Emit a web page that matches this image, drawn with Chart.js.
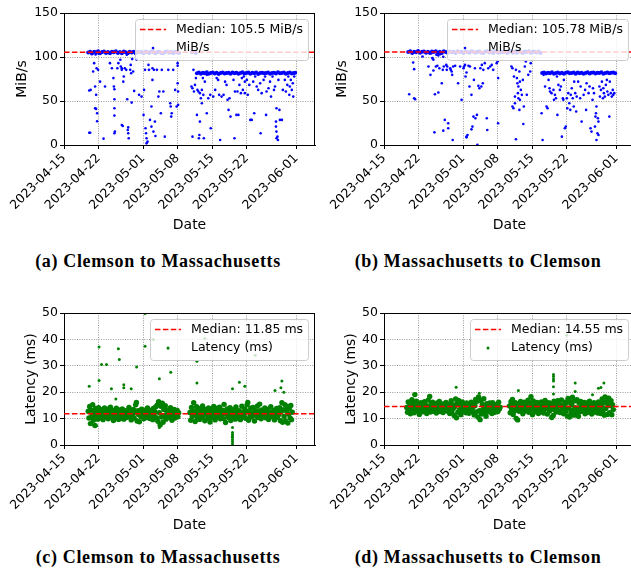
<!DOCTYPE html>
<html>
<head>
<meta charset="utf-8">
<script src="https://cdn.jsdelivr.net/npm/chart.js@4.4.0/dist/chart.umd.min.js"></script>
<style>
  html, body { margin: 0; padding: 0; background: #fff; overflow: hidden; }
  body { width: 631px; height: 573px; position: relative; }
  .panel { position: absolute; width: 319px; height: 240px; }
  .caption { position: absolute; width: 316px; line-height: 20px; text-align: center; font-family: 'Liberation Serif', serif; font-weight: bold; font-size: 18px; letter-spacing: 0.65px; color: #000; }
</style>
</head>
<body>
<div class="panel" style="left:0;top:0"><canvas id="thrCM" width="319" height="240"></canvas></div>
<div class="panel" style="left:320px;top:0"><canvas id="thrMC" width="319" height="240"></canvas></div>
<div class="panel" style="left:0;top:300px"><canvas id="latCM" width="319" height="240"></canvas></div>
<div class="panel" style="left:320px;top:300px"><canvas id="latMC" width="319" height="240"></canvas></div>
<div class="caption" style="left:0;top:251px">(a) Clemson to Massachusetts</div>
<div class="caption" style="left:320px;top:251px">(b) Massachusetts to Clemson</div>
<div class="caption" style="left:0;top:547px">(c) Clemson to Massachusetts</div>
<div class="caption" style="left:320px;top:547px">(d) Massachusetts to Clemson</div>
<script>
// x values are days since 2023-04-15
const dayMin = 0;
const dayMax = 50.8;
const dateTickDays = [0, 7, 16, 23, 30, 37, 47];
const dateTickLabels = ['2023-04-15', '2023-04-22', '2023-05-01', '2023-05-08', '2023-05-15', '2023-05-22', '2023-06-01'];

const medianThrCM = 105.5;
const medianThrMC = 105.78;
const medianLatCM = 11.85;
const medianLatMC = 14.55;

// (a) throughput Clemson -> Massachusetts, MiB/s
const thrCMScatter = [
  [5.1,61.9],[5.4,62.6],[5.9,83.5],[6.1,93],[6.3,41.8],[6.5,41],[6.6,87.3],[6.7,36],[5.1,14],[5.3,14],
  [6.3,66.4],[6.5,57],[6.7,27],[6.9,85.4],[7.3,72],[8.0,7.2],[8.3,66.4],[9.3,93],[9.7,87.3],[10.0,76],
  [10.1,66.4],[10.2,63.4],[10.2,52],[10.2,41.8],[10.2,33.4],[10.2,13.3],[10.3,15.2],[10.8,87.3],[11.0,93],[11.4,96.8],
  [11.5,89.2],[11.7,87.3],[11.7,85.4],[11.7,22.8],[11.9,21.6],[12.0,72],[12.1,77.8],[12.3,87.3],[12.6,85.4],[12.7,102.5],
  [12.8,52],[12.9,17],[13.0,20],[13.0,13.3],[13.1,7.6],[13.4,85.4],[13.5,91],[13.6,81.6],[13.7,48.2],[13.8,97.6],
  [14.0,83.5],[14.2,61.5],[14.7,96.8],[15.2,57],[15.7,55],[16.1,34.2],[16.2,62.6],[16.4,85.4],[16.5,19],[16.6,13.3],
  [16.7,7.6],[16.7,1.9],[16.9,3.8],[17.1,91],[17.2,85.4],[17.4,28.5],[17.7,20.9],[17.7,43.7],[17.9,87.3],[17.9,74],
  [18.1,109],[18.1,15.2],[18.2,85.4],[18.4,26.6],[18.5,10.3],[18.8,85.4],[19.1,55],[19.3,60.8],[19.6,36],[19.8,85.4],
  [20.1,60.8],[20.4,9.5],[21.1,85.4],[21.5,47.5],[21.6,43.7],[21.7,32.3],[21.8,36],[22.1,85.4],[22.5,62.6],[22.8,43.7],
  [23.0,70.2],[23.0,93],[23.1,45.6],[23.1,60.8],[23.0,90],[5.6,103.2],[6.4,102.8],[7.0,103.6],
  [25.8,66.4],[26.0,64.5],[26.0,9.5],[26.2,85.4],[26.3,60.8],[26.5,68.3],[26.7,76],[26.9,34.2],[27.0,62.6],[27.2,60.8],
  [27.3,7.6],[27.4,11.4],[27.5,58.9],[27.5,26.6],[27.7,53.2],[27.9,47.5],[27.9,62.6],[28.1,76],[28.2,57],[28.3,7.6],
  [28.5,72],[28.9,79.7],[28.9,36],[29.2,53.2],[29.6,57],[29.7,19],[30.2,55],[30.6,62.6],[30.9,76],[31.2,74],
  [31.4,57],[31.6,5.7],[31.9,55],[32.3,57],[32.6,72],[32.9,68.3],[33.1,51.3],[33.3,39.9],[33.5,53.2],[33.7,32.3],
  [34.3,74],[34.5,7.6],[34.6,60.8],[34.9,34.2],[35.1,60.8],[35.3,34.2],[35.5,68.3],[35.8,58.9],[36.0,76],[36.2,62.6],
  [36.4,77.8],[36.6,72],[36.6,58.9],[37.0,74],[37.2,57],[37.5,68.3],[37.7,28.5],[38.0,28.5],[38.3,72],[38.5,36],
  [38.7,77.8],[39.0,66.4],[39.3,62.6],[39.7,70.2],[39.8,13.3],[40.0,58.9],[40.4,74],[40.7,77.8],[40.9,34.2],[41.0,60.8],
  [41.4,64.5],[41.7,72],[41.9,55],[42.2,77.8],[42.5,62.6],[42.7,66.4],[42.9,26.6],[42.9,20.9],[43.0,41.8],[43.0,15.2],
  [43.0,7.6],[43.2,9.5],[43.3,5.7],[43.4,74],[43.6,39.9],[43.7,28.5],[44.1,28.5],[44.3,62.6],[44.7,74],[44.9,60.8],
  [45.2,68.3],[45.4,77.8],[45.6,57],[45.7,66.4],[45.9,74],[46.1,62.6],[46.3,70.2],[46.4,55],[46.6,77.8]
];
const thrCMBand = [
  [4.9,105.2],[5.3,106.1],[5.7,104.3],[6.1,105.9],[6.5,105.3],[6.9,106.4],[7.3,104.4],[7.7,105.6],[8.1,106.2],[8.5,104.5],
  [8.9,105.8],[9.3,104.2],[9.7,106.0],[10.1,105.4],[10.5,106.5],[10.9,104.6],[11.3,105.7],[11.7,104.3],[12.1,106.3],[12.5,105.5],
  [12.9,104.4],[13.3,106.0],[13.7,105.2],[14.1,105.9],[14.5,104.3],[14.9,106.1],[15.3,105.3],[15.7,105.8],[16.1,104.2],[16.5,106.2],
  [16.9,105.4],[17.3,104.5],[17.7,106.4],[18.1,105.6],[18.5,104.4],[18.9,105.7],[19.3,106.0],[19.7,104.6],[20.1,104.2],[20.5,105.9],
  [20.9,106.3],[21.3,104.7],[21.7,105.6],[22.1,104.3],[22.5,106.1],[22.9,105.5],[23.3,104.5],[25.9,105.4],[26.3,106.0],[26.7,104.6],
  [26.9,81.6],[27.3,82.4],[27.7,81.1],[28.1,82.0],[28.5,81.4],[28.9,82.6],[29.3,80.9],[29.7,81.8],[30.1,82.3],[30.5,81.2],
  [30.9,82.1],[31.3,80.8],[31.7,81.9],[32.1,82.5],[32.5,81.3],[32.9,81.7],[33.3,82.2],[33.7,81.0],[34.1,82.4],[34.5,81.5],
  [34.9,82.0],[35.3,80.9],[35.7,81.8],[36.1,82.6],[36.5,81.2],[36.9,81.9],[37.3,82.3],[37.7,81.1],[38.1,82.0],[38.5,81.6],
  [38.9,82.5],[39.3,80.8],[39.7,81.7],[40.1,82.2],[40.5,81.4],[40.9,81.9],[41.3,82.4],[41.7,81.0],[42.1,81.8],[42.5,82.1],
  [42.9,81.3],[43.3,82.6],[43.7,81.5],[44.1,81.9],[44.5,82.3],[44.9,81.1],[45.3,81.7],[45.7,82.4],[46.1,81.2],[46.5,81.8],[46.8,82.1]
];

// (b) throughput Massachusetts -> Clemson, MiB/s
const thrMCScatter = [
  [5.1,57.7],[5.9,93.8],[6.1,86.2],[6.1,53.2],[6.3,52],[7.8,100.6],[9.0,89.2],[9.4,79.7],[9.6,104.4],[9.8,98.7],
  [10.0,96.8],[10.0,84.7],[10.2,14.4],[10.3,57.7],[10.5,89.2],[10.8,90],[11.0,59.6],[11.2,87.3],[11.7,70.2],[11.9,85.4],
  [12.0,16.3],[12.1,89.2],[12.3,28.5],[12.6,91],[12.7,85.4],[12.8,89.2],[13.0,24.7],[13.0,19],[13.4,87.3],[13.5,85.4],
  [13.7,83.5],[13.8,79.7],[13.9,5.7],[14.0,89.2],[14.4,90],[15.0,70.2],[15.4,89.2],[15.7,51.3],[16.1,87.3],[16.2,89.2],
  [16.4,91],[16.5,77.8],[16.7,9.5],[16.7,8.7],[16.7,82.4],[16.9,11.4],[17.1,90],[17.3,66.4],[17.4,89.2],[17.7,57],
  [17.7,17.8],[17.9,20.9],[18.1,32.3],[18.2,74],[18.4,87.3],[18.5,30.4],[18.8,34.2],[18.9,0.3],[19.1,67.2],[19.3,64.5],
  [19.5,87.3],[19.7,66.4],[19.8,91],[20.0,70.2],[20.1,85.4],[20.4,93],[20.8,30.4],[20.9,17],[21.1,87.3],[21.5,89.2],
  [21.8,91],[22.1,85.4],[22.8,93],[23.0,95],[23.1,76],[23.1,24.7],[10.6,102.5],[11.0,101.8],[11.4,103.2],[12.0,100.3],
  [25.8,89.2],[26.0,87.3],[26.0,43.7],[26.2,41.8],[26.3,77.8],[26.5,55],[26.5,47.5],[26.7,85.4],[26.7,6.5],[26.9,76],
  [27.0,70.2],[27.1,58.9],[27.2,66.4],[27.2,53.2],[27.4,83.5],[27.4,39.9],[27.5,51.3],[27.5,72],[27.7,62.6],[27.9,57],
  [28.1,74],[28.2,23.9],[28.3,43.7],[28.5,89.2],[28.7,95],[28.9,57],[29.2,79.7],[29.6,83.5],[29.7,93],
  [31.9,36],[32.1,5.7],[32.3,79.7],[32.6,66.4],[32.9,43.7],[33.1,41.8],[33.3,74],[33.5,64.5],[33.6,60.8],[33.9,58.9],
  [34.3,62.6],[34.4,51.3],[34.6,57],[34.8,53.2],[35.0,77.8],[35.1,34.2],[35.3,68.3],[35.6,62.6],[35.8,66.4],[36.0,9.5],
  [36.2,53.2],[36.3,51.3],[36.4,74],[36.6,19],[36.8,20.9],[37.0,53.2],[37.1,41.8],[37.3,58.9],[37.5,47.5],[37.7,39.9],
  [37.8,57],[38.0,64.5],[38.2,53.2],[38.4,43.7],[38.5,72],[38.7,58.9],[38.9,38],[39.0,55],[39.3,72],[39.7,53.2],
  [39.8,66.4],[40.0,26.6],[40.4,57],[40.7,62.6],[40.9,39.9],[41.0,70.2],[41.4,58.9],[41.6,66.4],[41.8,19],[42.0,15.2],
  [42.2,51.3],[42.3,64.5],[42.5,58.9],[42.7,20.9],[42.8,32.3],[42.9,36],[43.0,43.7],[43.0,5.7],[43.2,13.3],[43.3,30.4],
  [43.4,26.6],[43.4,11.4],[43.6,66.4],[43.7,55],[43.9,62.6],[44.1,72],[44.3,53.2],[44.4,64.5],[44.5,58.9],[44.7,55],
  [44.9,68.3],[45.1,74],[45.2,60.8],[45.4,57],[45.6,32.3],[45.7,72],[45.9,58.9],[46.1,55],[46.3,62.6],[46.4,57],[46.6,58.9]
];
const thrMCBand = [
  [4.9,105.6],[5.3,106.4],[5.7,104.6],[6.1,106.0],[6.5,105.5],[6.9,106.7],[7.3,104.7],[7.7,105.9],[8.1,106.3],[8.5,104.8],
  [8.9,106.1],[9.3,104.5],[9.7,106.2],[10.1,105.7],[10.5,106.6],[10.9,104.9],[11.3,106.0],[11.7,104.6],[12.1,106.5],[12.5,105.8],
  [12.9,104.7],[13.3,106.3],[13.7,105.5],[14.1,106.1],[14.5,104.6],[14.9,106.4],[15.3,105.6],[15.7,106.0],[16.1,104.5],[16.5,106.5],
  [16.9,105.7],[17.3,104.8],[17.7,106.6],[18.1,105.9],[18.5,104.7],[18.9,106.0],[19.3,106.3],[19.7,104.9],[20.1,104.5],[20.5,106.2],
  [20.9,106.5],[21.3,105.0],[21.7,105.9],[22.1,104.6],[22.5,106.4],[22.9,105.8],[23.3,104.8],[23.7,106.1],[24.1,105.6],[24.5,106.3],
  [24.9,104.5],[25.3,105.9],[25.7,106.4],[26.1,104.9],[26.5,106.0],[26.9,104.7],[27.3,106.5],[27.7,105.7],[28.1,104.6],[28.5,106.2],
  [28.9,105.8],[29.3,106.4],[29.7,104.8],[30.1,105.9],[30.5,106.1],[30.9,105.0],[31.3,106.3],[31.7,104.6],
  [32.0,81.7],[32.4,82.5],[32.8,81.2],[33.2,82.1],[33.6,81.5],[34.0,82.7],[34.4,81.0],[34.8,81.9],[35.2,82.4],[35.6,81.3],
  [36.0,82.2],[36.4,80.9],[36.8,82.0],[37.2,82.6],[37.6,81.4],[38.0,81.8],[38.4,82.3],[38.8,81.1],[39.2,82.5],[39.6,81.6],
  [40.0,82.1],[40.4,81.0],[40.8,81.9],[41.2,82.7],[41.6,81.3],[42.0,82.0],[42.4,82.4],[42.8,81.2],[43.2,82.1],[43.6,81.7],
  [44.0,82.6],[44.4,80.9],[44.8,81.8],[45.2,82.3],[45.6,81.5],[46.0,82.0],[46.4,82.5],[46.8,81.4]
];

// (c) latency Clemson -> Massachusetts, ms
const latCMBand = [
  [4.90,12.8],[5.05,10.2],[5.20,14.6],[5.35,8.1],[5.50,13.2],[5.65,11.0],[5.80,15.3],[5.95,9.4],[6.10,12.1],[6.25,7.4],
  [6.40,13.8],[6.55,10.9],[6.70,12.6],[6.85,9.8],[7.00,14.1],[7.15,11.5],[7.30,12.9],[7.45,10.3],[7.60,13.4],[7.75,11.8],
  [7.90,9.6],[8.05,12.4],[8.20,14.0],[8.35,10.7],[8.50,12.2],[8.65,11.1],[8.80,13.6],[8.95,9.9],[9.10,12.7],[9.25,11.4],
  [9.40,14.3],[9.55,10.5],[9.70,12.0],[9.85,13.1],[10.00,9.3],[10.15,11.9],[10.30,12.8],[10.45,10.6],[10.60,13.9],[10.75,11.3],
  [10.90,12.5],[11.05,9.7],[11.20,13.3],[11.35,11.6],[11.50,12.2],[11.65,10.1],[11.80,13.7],[11.95,11.9],[12.10,9.8],[12.25,12.6],
  [12.40,11.2],[12.55,13.0],[12.70,10.4],[12.85,12.3],[13.00,11.7],[13.15,14.2],[13.30,10.9],[13.45,12.1],[13.60,9.5],[13.75,12.9],
  [13.90,11.4],[14.05,13.5],[14.20,10.2],[14.35,12.4],[14.50,15.2],[14.65,16.1],[14.80,9.1],[14.95,13.0],[15.10,11.6],[15.25,8.8],
  [15.40,12.7],[15.55,10.8],[15.70,13.6],[15.85,11.3],[16.00,12.0],[16.15,9.9],[16.30,13.2],[16.45,11.5],[16.60,12.6],[16.75,10.4],
  [16.90,14.0],[17.05,11.8],[17.20,12.3],[17.35,10.0],[17.50,13.1],[17.65,11.2],[17.80,12.7],[17.95,9.6],[18.10,13.8],[18.25,11.0],
  [18.40,12.5],[18.55,14.4],[18.70,10.3],[18.85,15.1],[19.00,9.0],[19.15,16.4],[19.30,12.2],[19.45,7.6],[19.60,14.7],[19.75,10.6],
  [19.90,15.8],[20.05,8.6],[20.20,13.4],[20.35,11.1],[20.50,14.9],[20.65,9.8],[20.80,12.8],[20.95,11.4],[21.10,13.3],[21.25,10.5],
  [21.40,12.0],[21.55,14.1],[21.70,11.7],[21.85,9.4],[22.00,12.9],[22.15,11.0],[22.30,13.5],[22.45,10.2],[22.60,12.4],[22.75,11.6],
  [22.90,13.1],[23.05,10.7],[23.20,12.2],
  [25.50,12.3],[25.65,9.4],[25.80,14.2],[25.95,10.8],[26.10,13.0],[26.25,16.0],[26.40,11.5],[26.55,8.9],[26.70,12.7],[26.85,14.5],
  [27.00,10.3],[27.15,12.1],[27.30,13.8],[27.45,9.7],[27.60,11.9],[27.75,13.3],[27.90,10.6],[28.05,14.8],[28.20,11.2],[28.35,12.6],
  [28.50,9.2],[28.65,13.5],[28.80,11.7],[28.95,12.9],[29.10,10.1],[29.25,14.0],[29.40,11.4],[29.55,8.7],[29.70,12.5],[29.85,13.6],
  [30.00,10.4],[30.15,12.2],[30.30,14.6],[30.45,11.0],[30.60,9.5],[30.75,12.8],[30.90,11.3],[31.05,13.9],[31.20,10.7],[31.35,12.0],
  [31.50,14.3],[31.65,9.9],[31.80,12.4],[31.95,11.6],[32.10,13.2],[32.25,10.0],[32.40,15.4],[32.55,11.8],[32.70,8.5],[32.85,12.6],
  [33.00,13.7],[33.15,10.5],[33.30,12.3],[33.45,11.1],[33.60,14.1],[33.75,9.3],[33.90,12.9],[34.05,10.9],[34.20,13.4],[34.35,11.5],
  [34.50,12.1],[34.65,9.8],[34.80,14.4],[34.95,11.3],[35.10,12.7],[35.25,10.2],[35.40,13.0],[35.55,11.8],[35.70,9.6],[35.85,12.4],
  [36.00,14.7],[36.15,10.8],[36.30,12.2],[36.45,11.4],[36.60,13.6],[36.75,10.1],[36.90,12.8],[37.05,15.2],[37.20,16.1],[37.35,9.4],
  [37.50,12.5],[37.65,11.0],[37.80,13.9],[37.95,10.6],[38.10,12.0],[38.25,14.2],[38.40,11.7],[38.55,9.1],[38.70,13.1],[38.85,11.2],
  [39.00,12.6],[39.15,14.8],[39.30,10.4],[39.45,12.9],[39.60,15.5],[39.75,11.6],[39.90,9.9],[40.05,13.3],[40.20,10.9],[40.35,12.3],
  [40.50,11.5],[40.65,14.0],[40.80,10.3],[40.95,12.7],[41.10,11.1],[41.25,13.5],[41.40,9.7],[41.55,12.2],[41.70,11.8],[41.85,14.5],
  [42.00,10.7],[42.15,12.4],[42.30,11.3],[42.45,13.2],[42.60,9.5],[42.75,12.8],[42.90,11.0],[43.05,13.8],[43.20,10.5],[43.35,12.1],
  [43.50,11.6],[43.65,14.1],[43.80,9.2],[43.95,12.6],[44.10,16.0],[44.25,8.6],[44.40,13.4],[44.55,10.8],[44.70,15.3],[44.85,9.0],
  [45.00,12.9],[45.15,14.6],[45.30,8.3],[45.45,11.7],[45.60,13.7],[45.75,10.2],[45.90,15.0],[46.05,9.6],[46.20,12.4]
];
const latCMOutliers = [
  [5.1,22.3],[7.1,37.1],[7.1,24.4],[7.6,30.5],[8.6,30.5],[9.6,21.3],[10.5,17.4],[11.0,36.5],[11.2,32.4],[12.1,22.8],
  [12.1,21.7],[13.6,21.3],[14.7,29.5],[16.4,49.8],[16.4,37.4],[18.1,40.0],[19.3,25.1],[21.1,36.5],[21.6,27.6],[26.9,31.7],
  [26.9,23.5],[28.5,40.3],[34.1,21.3],[35.5,23.8],[36.6,22.3],[38.7,34.0],[42.7,20.6],[43.9,21.7],[44.1,24.2],[44.5,20.0],
  [19.3,6.6],[6.6,7.3],[34.1,6.6],[34.1,4.7],[34.1,4.0],[34.1,3.3],[34.1,2.8],[34.1,2.0],[34.1,1.2],[34.1,0.4]
];

// (d) latency Massachusetts -> Clemson, ms
const latMCBand = [
  [4.60,14.2],[4.75,12.4],[4.90,16.3],[5.05,13.1],[5.20,15.0],[5.35,11.8],[5.50,14.7],[5.65,17.2],[5.80,13.5],[5.95,15.8],
  [6.10,12.2],[6.25,19.1],[6.40,14.4],[6.55,16.6],[6.70,12.9],[6.85,15.3],[7.00,13.7],[7.15,11.6],[7.30,14.9],[7.45,16.0],
  [7.60,13.3],[7.75,15.5],[7.90,12.6],[8.05,14.1],[8.20,16.4],[8.35,13.0],[8.50,15.1],[8.65,11.9],[8.80,14.6],[8.95,17.0],
  [9.10,13.4],[9.25,18.4],[9.40,12.5],[9.55,15.7],[9.70,14.0],[9.85,16.2],[10.00,12.8],[10.15,15.2],[10.30,13.6],[10.45,14.8],
  [10.60,12.1],[10.75,15.9],[10.90,13.2],[11.05,14.5],[11.20,16.5],[11.35,12.7],[11.50,15.0],[11.65,13.8],[11.80,14.3],[11.95,12.3],
  [12.10,15.6],[12.25,13.1],[12.40,14.9],[12.55,16.1],[12.70,12.9],[12.85,14.4],[13.00,13.5],[13.15,15.4],[13.30,11.9],[13.45,14.7],
  [13.60,16.8],[13.75,12.6],[13.90,15.3],[14.05,13.9],[14.20,11.2],[14.35,14.6],[14.50,17.4],[14.65,10.3],[14.80,15.8],[14.95,12.4],
  [15.10,16.9],[15.25,13.3],[15.40,15.1],[15.55,11.5],[15.70,14.2],[15.85,16.3],[16.00,12.8],[16.15,15.5],[16.30,13.7],[16.45,14.8],
  [16.60,12.2],[16.75,15.9],[16.90,13.4],[17.05,14.5],[17.20,12.0],[17.35,15.2],[17.50,13.9],[17.65,16.2],[17.80,12.7],[17.95,14.1],
  [18.10,15.7],[18.25,11.4],[18.40,14.9],[18.55,17.3],[18.70,12.5],[18.85,16.6],[19.00,10.6],[19.15,18.2],[19.30,13.0],[19.45,9.6],
  [19.60,16.9],[19.75,11.7],[19.90,15.4],[20.05,13.6],[20.20,17.5],[20.35,12.3],[20.50,14.8],[20.65,10.9],[20.80,15.6],[20.95,13.2],
  [21.10,14.4],[21.25,12.6],[21.40,15.9],[21.55,13.5],[21.70,14.1],[21.85,11.9],[22.00,16.0],[22.15,13.8],[22.30,14.6],[22.45,12.4],
  [22.60,15.3],[22.75,13.0],[22.90,14.9],[23.05,12.7],[23.20,16.2],[23.35,13.6],[23.50,14.3],
  [25.40,14.8],[25.55,12.2],[25.70,16.4],[25.85,13.5],[26.00,17.3],[26.15,11.6],[26.30,15.1],[26.45,13.0],[26.60,16.0],[26.75,10.1],
  [26.90,14.4],[27.05,9.5],[27.20,15.6],[27.35,12.8],[27.50,14.2],[27.65,16.5],[27.80,13.3],[27.95,15.0],[28.10,11.8],[28.25,14.7],
  [28.40,16.2],[28.55,12.9],[28.70,15.4],[28.85,13.6],[29.00,14.1],[29.15,17.0],[29.30,12.4],[29.45,15.8],[29.60,13.1],[29.75,18.3],
  [29.90,14.5],[30.05,11.5],[30.20,16.7],[30.35,13.8],[30.50,15.2],[30.65,12.6],[30.80,14.9],[30.95,16.1],[31.10,13.2],[31.25,11.9],
  [31.40,15.5],[31.55,14.0],[31.70,12.7],[31.85,16.3],[32.00,13.4],[32.15,15.0],[32.30,12.1],[32.45,14.6],[32.60,16.9],[32.75,13.7],
  [32.90,15.3],[33.05,11.7],[33.20,14.3],[33.35,16.0],[33.50,12.9],[33.65,15.7],[33.80,13.5],[33.95,10.4],[34.10,14.8],[34.25,11.2],
  [34.40,16.6],[34.55,13.3],[34.70,15.1],[34.85,12.5],[35.00,14.4],[35.15,16.8],[35.30,13.0],[35.45,15.6],[35.60,12.3],[35.75,14.9],
  [35.90,17.1],[36.05,13.6],[36.20,15.2],[36.35,11.8],[36.50,14.5],[36.65,16.2],[36.80,12.8],[36.95,15.9],[37.10,11.0],[37.25,17.6],
  [37.40,13.9],[37.55,10.6],[37.70,16.4],[37.85,12.2],[38.00,15.3],[38.15,18.1],[38.30,13.4],[38.45,11.3],[38.60,16.7],[38.75,14.1],
  [38.90,12.0],[39.05,17.2],[39.20,13.7],[39.35,10.9],[39.50,15.8],[39.65,12.6],[39.80,16.5],[39.95,14.2],[40.10,12.9],[40.25,15.4],
  [40.40,13.1],[40.55,16.1],[40.70,11.8],[40.85,14.7],[41.00,13.5],[41.15,15.9],[41.30,12.4],[41.45,14.3],[41.60,16.6],[41.75,13.0],
  [41.90,15.2],[42.05,11.7],[42.20,14.8],[42.35,13.6],[42.50,16.0],[42.65,12.5],[42.80,15.1],[42.95,13.9],[43.10,14.4],[43.25,12.1],
  [43.40,16.3],[43.55,13.2],[43.70,15.6],[43.85,11.9],[44.00,14.6],[44.15,17.4],[44.30,12.7],[44.45,15.9],[44.60,11.3],[44.75,18.2],
  [44.90,13.8],[45.05,16.4],[45.20,11.6],[45.35,15.0],[45.50,17.7],[45.65,12.2],[45.80,14.9],[45.95,16.8],[46.10,11.5],[46.25,15.3],
  [46.40,13.4]
];
const latMCOutliers = [
  [14.6,21.9],[19.3,19.6],[27.2,20.6],[34.3,26.7],[34.3,25.9],[34.3,25.0],[34.3,24.2],[34.3,22.1],[34.3,19.3],[37.0,41.6],
  [38.7,23.5],[38.7,20.3],[42.2,19.0],[43.4,21.5],[43.9,21.8],[44.5,23.5]
];

Chart.defaults.font.family = "'DejaVu Sans', sans-serif";
Chart.defaults.color = '#000';
Chart.defaults.animation = false;

const frameAndLegend = {
  id: 'frameAndLegend',
  afterDatasetsDraw(chart) {
    const { ctx, chartArea: a } = chart;
    ctx.save();
    ctx.strokeStyle = '#000';
    ctx.lineWidth = 1;
    ctx.beginPath();
    ctx.moveTo(a.left, a.top + 0.5);
    ctx.lineTo(a.right, a.top + 0.5);
    ctx.moveTo(a.right - 0.5, a.top);
    ctx.lineTo(a.right - 0.5, a.bottom);
    ctx.stroke();
    ctx.restore();
  },
  afterDraw(chart) {
    const { ctx, chartArea: a } = chart;
    const sets = chart.data.datasets;
    ctx.save();
    ctx.font = "12.5px 'DejaVu Sans'";
    const textW = Math.max(ctx.measureText(sets[0].label).width, ctx.measureText(sets[1].label).width);
    const w = 41 + textW + 5, h = 41;
    const x = Math.round(a.right - 7 - w), y = a.top + 6;
    ctx.beginPath();
    ctx.roundRect(x + 0.5, y + 0.5, w, h, 3);
    ctx.fillStyle = 'rgba(255,255,255,0.8)';
    ctx.fill();
    ctx.strokeStyle = '#cccccc';
    ctx.lineWidth = 1;
    ctx.stroke();

    ctx.strokeStyle = sets[0].borderColor;
    ctx.lineWidth = 1.5;
    ctx.setLineDash(sets[0].borderDash);
    ctx.beginPath();
    ctx.moveTo(x + 5, y + 10.5);
    ctx.lineTo(x + 31, y + 10.5);
    ctx.stroke();
    ctx.setLineDash([]);

    ctx.fillStyle = sets[1].backgroundColor;
    ctx.beginPath();
    ctx.arc(x + 18, y + 29, sets[1].pointRadius, 0, Math.PI * 2);
    ctx.fill();

    ctx.fillStyle = '#000';
    ctx.textBaseline = 'middle';
    ctx.fillText(sets[0].label, x + 41, y + 11);
    ctx.fillText(sets[1].label, x + 41, y + 29);
    ctx.restore();
  }
};

function createPanel(id, cfg) {
  const toXY = p => ({ x: p[0], y: p[1] });
  new Chart(document.getElementById(id), {
    type: 'scatter',
    data: {
      datasets: [{
        label: cfg.medianLabel,
        data: [{ x: dayMin, y: cfg.median }, { x: dayMax, y: cfg.median }],
        showLine: true,
        borderColor: '#ff0000',
        borderWidth: 1.5,
        borderDash: [5.5, 2.4],
        pointRadius: 0,
      }, {
        label: cfg.seriesLabel,
        data: cfg.scatter.map(toXY),
        backgroundColor: cfg.color,
        borderWidth: 0,
        pointRadius: cfg.radius,
      }, {
        label: cfg.seriesLabel,
        data: cfg.band.map(toXY),
        backgroundColor: cfg.color,
        borderWidth: 0,
        pointRadius: cfg.bandRadius,
      }],
    },
    options: {
      responsive: false,
      animation: false,
      events: [],
      layout: { padding: { top: 13, right: 1, left: 0, bottom: 0 } },
      plugins: { legend: { display: false }, tooltip: { enabled: false } },
      scales: {
        x: {
          type: 'linear',
          min: dayMin,
          max: dayMax,
          afterBuildTicks: axis => { axis.ticks = dateTickDays.map(v => ({ value: v })); },
          afterFit: axis => { axis.height = 95; },
          ticks: {
            autoSkip: false,
            minRotation: 45,
            maxRotation: 45,
            padding: 2,
            font: { size: 12.5 },
            callback: v => dateTickLabels[dateTickDays.indexOf(v)],
          },
          grid: { color: '#9a9a9a', lineWidth: 1, tickLength: 4, tickColor: '#000', tickWidth: 1 },
          border: { color: '#000', width: 1, dash: [1, 1.4] },
          title: { display: true, text: 'Date', font: { size: 14 }, padding: { top: 0, bottom: 6.6 } },
        },
        y: {
          min: 0,
          max: cfg.yMax,
          afterFit: axis => { axis.width = 64; },
          ticks: { stepSize: cfg.yStep, padding: 2, font: { size: 12.5 } },
          grid: { color: '#9a9a9a', lineWidth: 1, tickLength: 4, tickColor: '#000', tickWidth: 1 },
          border: { color: '#000', width: 1, dash: [1, 1.4] },
          title: { display: true, text: cfg.yTitle, font: { size: 14 }, padding: { top: cfg.yTitlePad, bottom: 0 } },
        },
      },
    },
    plugins: [frameAndLegend],
  });
}

createPanel('thrCM', {
  scatter: thrCMScatter, band: thrCMBand, color: '#0000ff', radius: 1.3, bandRadius: 2,
  median: medianThrCM, medianLabel: 'Median: 105.5 MiB/s', seriesLabel: 'MiB/s',
  yMax: 150, yStep: 50, yTitle: 'MiB/s', yTitlePad: 13.6,
});
createPanel('thrMC', {
  scatter: thrMCScatter, band: thrMCBand, color: '#0000ff', radius: 1.3, bandRadius: 2,
  median: medianThrMC, medianLabel: 'Median: 105.78 MiB/s', seriesLabel: 'MiB/s',
  yMax: 150, yStep: 50, yTitle: 'MiB/s', yTitlePad: 13.6,
});
createPanel('latCM', {
  scatter: latCMOutliers, band: latCMBand, color: '#008000', radius: 1.5, bandRadius: 2.7,
  median: medianLatCM, medianLabel: 'Median: 11.85 ms', seriesLabel: 'Latency (ms)',
  yMax: 50, yStep: 10, yTitle: 'Latency (ms)', yTitlePad: 22.6,
});
createPanel('latMC', {
  scatter: latMCOutliers, band: latMCBand, color: '#008000', radius: 1.5, bandRadius: 2.7,
  median: medianLatMC, medianLabel: 'Median: 14.55 ms', seriesLabel: 'Latency (ms)',
  yMax: 50, yStep: 10, yTitle: 'Latency (ms)', yTitlePad: 22.6,
});
</script>
</body>
</html>
